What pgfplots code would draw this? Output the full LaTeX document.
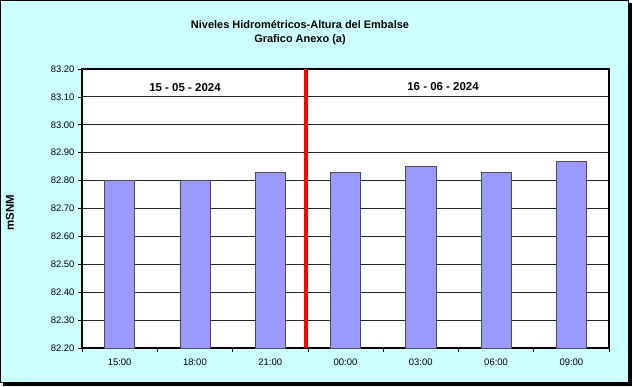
\documentclass[border=0pt]{standalone}
\usepackage{pgfplots}
\pgfplotsset{compat=1.18}
\usepackage{fontspec}
\setmainfont{Liberation Sans}
\definecolor{bgc}{HTML}{CCFFFF}
\definecolor{barc}{HTML}{9999FF}
\begin{document}
\begin{tikzpicture}[x=1bp,y=1bp]
\useasboundingbox (0,0) rectangle (633,386);
\fill[black] (3,0) rectangle (632,383);
\fill[bgc, draw=black, line width=0.8bp] (0.5,3.5) rectangle (628.5,385.5);
\begin{axis}[
  at={(82bp,38bp)}, anchor=south west,
  scale only axis, width=527bp, height=279bp,
  axis background/.style={fill=white},
  xmin=-0.5, xmax=6.5, ymin=82.2, ymax=83.2,
  xtick={0,...,6},
  xticklabels={15:00,18:00,21:00,00:00,03:00,06:00,09:00},
  minor xtick={-0.5,0.5,...,6.5},
  ytick={82.2,82.3,...,83.21},
  yticklabel style={/pgf/number format/.cd, fixed, fixed zerofill, precision=2},
  /pgf/number format/assume math mode=true,
  ticklabel style={font=\fontsize{9.5}{11}\selectfont},
  major x tick style={draw=none},
  minor tick length=4bp, major tick length=4bp,
  tick align=outside, tick pos=left,
  tick style={black, line width=0.6bp},
  ymajorgrids, grid style={black!85, line width=0.8bp},
  axis line style={black, line width=1.3bp},
  xticklabel style={yshift=-3bp},
  clip=true,
]
\addplot[ybar, bar width=0.4, fill=barc, draw=black!70, line width=0.7bp]
  coordinates {(0,82.80) (1,82.80) (2,82.83) (3,82.83) (4,82.85) (5,82.83) (6,82.87)};
\addplot[red, line width=4bp] coordinates {(2.47,82.2) (2.47,83.2)};
\end{axis}
\node[font=\fontsize{11}{13}\selectfont\bfseries] at (300,361) {Niveles Hidrométricos-Altura del Embalse};
\node[font=\fontsize{11}{13}\selectfont\bfseries] at (300,346) {Grafico Anexo (a)};
\node[font=\fontsize{11.5}{13}\selectfont\bfseries, rotate=90] at (10,173) {mSNM};
\node[font=\fontsize{11.5}{13}\selectfont\bfseries] at (185,298) {15 - 05 - 2024};
\node[font=\fontsize{11.5}{13}\selectfont\bfseries] at (443,299) {16 - 06 - 2024};
\end{tikzpicture}
\end{document}
